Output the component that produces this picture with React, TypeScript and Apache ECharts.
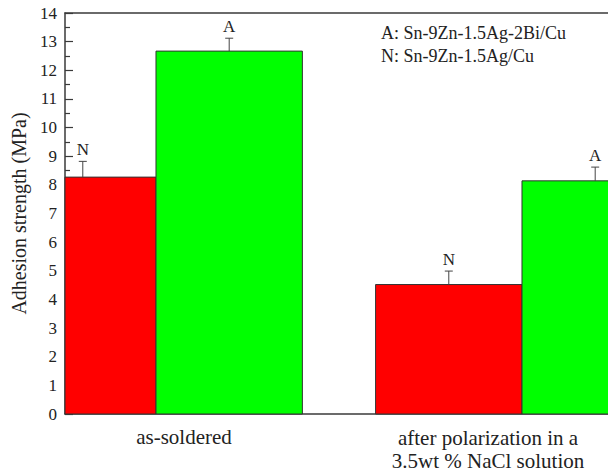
import { useEffect, useRef } from "react";
import * as echarts from "echarts";

// ---- data ----
const groups = ["as-soldered", "after polarization in a\n3.5wt % NaCl solution"];
const groupPos = [1, 2];
const nName = "N: Sn-9Zn-1.5Ag/Cu";
const aName = "A: Sn-9Zn-1.5Ag-2Bi/Cu";
const nValues = [8.27, 4.52];
const nErrors = [0.55, 0.47];
const aValues = [12.67, 8.14];
const aErrors = [0.45, 0.48];
const yMin = 0;
const yMax = 14;
const yInterval = 1;
const yTitle = "Adhesion strength (MPa)";

// ---- layout / style ----
const BAR_W = 0.4;
const X_MIN = 0.7514;
const X_MAX = 2.235;
const FONT = "'Liberation Serif', 'Times New Roman', Times, 'DejaVu Serif', serif";
const AXIS_COLOR = "#3a3a3a";
const TEXT_COLOR = "#222";

function makeSeries(name: string, values: number[], errors: number[], offset: number, color: string, letter: string) {
  return {
    type: "custom",
    name,
    clip: false,
    encode: { x: 0, y: 1 },
    data: values.map((v, i) => [groupPos[i] + offset, v, errors[i]]),
    renderItem: (params: any, api: any) => {
      const x = api.value(0) as number;
      const v = api.value(1) as number;
      const e = api.value(2) as number;
      const tl = api.coord([x - BAR_W / 2, v]);
      const br = api.coord([x + BAR_W / 2, 0]);
      const cs = params.coordSys;
      const shape = echarts.graphic.clipRectByRect(
        { x: tl[0], y: tl[1], width: br[0] - tl[0], height: br[1] - tl[1] },
        { x: cs.x, y: cs.y - 2, width: cs.width + 3, height: cs.height + 4 }
      );
      const c = api.coord([x, v]);
      const t = api.coord([x, v + e]);
      const children: any[] = [];
      if (shape) {
        children.push({ type: "rect", shape, style: { fill: color, stroke: "#333", lineWidth: 1 } });
      }
      children.push({ type: "line", shape: { x1: c[0], y1: c[1], x2: t[0], y2: t[1] }, style: { stroke: "#444", lineWidth: 1 } });
      children.push({ type: "line", shape: { x1: t[0] - 4, y1: t[1], x2: t[0] + 4, y2: t[1] }, style: { stroke: "#444", lineWidth: 1 } });
      children.push({
        type: "text",
        x: t[0],
        y: t[1] - 3,
        style: { text: letter, fill: TEXT_COLOR, fontFamily: FONT, fontSize: 17, align: "center", verticalAlign: "bottom" },
      });
      return { type: "group", children };
    },
  };
}

export default function App() {
  const ref = useRef<HTMLDivElement>(null);
  useEffect(() => {
    if (!ref.current) return;
    const chart = echarts.init(ref.current, undefined, { renderer: "svg" });
    const hiddenX = {
      type: "value",
      min: X_MIN,
      max: X_MAX,
      axisLine: { show: true, onZero: false, lineStyle: { color: AXIS_COLOR, width: 1.5 } },
      axisTick: { show: false },
      axisLabel: { show: false },
      splitLine: { show: false },
    };
    chart.setOption({
      animation: false,
      backgroundColor: "#fff",
      textStyle: { fontFamily: FONT },
      grid: { left: 65, right: 0, top: 13, bottom: 59, containLabel: false },
      xAxis: [
        { ...hiddenX, position: "bottom" },
        { ...hiddenX, position: "top" },
      ],
      yAxis: {
        type: "value",
        min: yMin,
        max: yMax,
        interval: yInterval,
        name: yTitle,
        nameLocation: "middle",
        nameGap: 36,
        nameTextStyle: { fontFamily: FONT, fontSize: 20, color: TEXT_COLOR },
        axisLine: { show: true, lineStyle: { color: AXIS_COLOR, width: 1.5 } },
        axisTick: { show: true, inside: true, length: 8, lineStyle: { color: AXIS_COLOR, width: 1.2 } },
        minorTick: { show: true, splitNumber: 2, length: 5, lineStyle: { color: AXIS_COLOR, width: 1.2 } },
        axisLabel: { fontFamily: FONT, fontSize: 17, color: TEXT_COLOR, margin: 8 },
        splitLine: { show: false },
      },
      graphic: [
        {
          type: "text",
          left: 381,
          top: 24,
          style: { text: aName, fontFamily: FONT, fontSize: 18, fill: TEXT_COLOR },
        },
        {
          type: "text",
          left: 381,
          top: 47,
          style: { text: nName, fontFamily: FONT, fontSize: 18, fill: TEXT_COLOR },
        },
        {
          type: "text",
          x: 184,
          y: 437,
          style: { text: groups[0], fontFamily: FONT, fontSize: 21, fill: TEXT_COLOR, align: "center", verticalAlign: "middle" },
        },
        {
          type: "text",
          x: 488,
          y: 426,
          style: { text: groups[1], fontFamily: FONT, fontSize: 21, fill: TEXT_COLOR, align: "center", verticalAlign: "top", lineHeight: 23 },
        },
      ],
      series: [
        makeSeries(nName, nValues, nErrors, -BAR_W / 2, "#ff0000", "N"),
        makeSeries(aName, aValues, aErrors, BAR_W / 2, "#00ff00", "A"),
      ],
    });
    return () => chart.dispose();
  }, []);
  return <div ref={ref} style={{ width: 608, height: 473, position: "absolute", left: 0, top: 0 }} />;
}
